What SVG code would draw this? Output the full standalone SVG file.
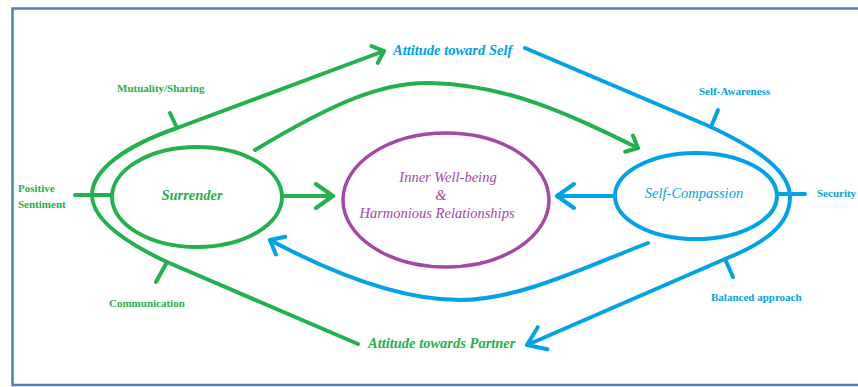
<svg xmlns="http://www.w3.org/2000/svg" width="858" height="387" viewBox="0 0 858 387">
<style>
.g{stroke:#22b14c}
.b{stroke:#00a2e8}
.ln{fill:none;stroke-width:4;stroke-linecap:round;stroke-linejoin:round}
.lbl{font-family:"Liberation Serif","Times New Roman",serif;font-weight:bold;font-size:11px}
.node{font-family:"Liberation Serif","Times New Roman",serif;font-style:italic;font-size:14.5px}
.tg{fill:#22b14c}
.tb{fill:#00a2e8}
.tp{fill:#a349a4}
</style>
<defs>
<marker id="agS" markerUnits="userSpaceOnUse" markerWidth="40" markerHeight="40" viewBox="-20 -20 40 40" refX="0" refY="0" orient="auto"><path d="M-10,-9 L0,0 L-10,9" fill="none" stroke="#22b14c" stroke-width="4" stroke-linecap="round" stroke-linejoin="round"/></marker>
<marker id="agL" markerUnits="userSpaceOnUse" markerWidth="40" markerHeight="40" viewBox="-20 -20 40 40" refX="0" refY="0" orient="auto"><path d="M-17,-12 L0,0 L-17,12" fill="none" stroke="#22b14c" stroke-width="4" stroke-linecap="round" stroke-linejoin="round"/></marker>
<marker id="abS" markerUnits="userSpaceOnUse" markerWidth="40" markerHeight="40" viewBox="-20 -20 40 40" refX="0" refY="0" orient="auto"><path d="M-12,-10 L0,0 L-12,10" fill="none" stroke="#00a2e8" stroke-width="4" stroke-linecap="round" stroke-linejoin="round"/></marker>
<marker id="abL" markerUnits="userSpaceOnUse" markerWidth="40" markerHeight="40" viewBox="-20 -20 40 40" refX="0" refY="0" orient="auto"><path d="M-17,-12 L0,0 L-17,12" fill="none" stroke="#00a2e8" stroke-width="4" stroke-linecap="round" stroke-linejoin="round"/></marker>
</defs>
<rect width="858" height="387" fill="#ffffff"/>
<path d="M860,8.5 L12.5,8.5 L12.5,385 L860,385" fill="none" stroke="#4f81bd" stroke-width="2.5"/>

<g id="connectors">
<path class="ln g" d="M358,344 L167,262 C120,240 92,218 92,195 C92,170 125,146 177,128 L384,51" marker-end="url(#agS)"/>
<path class="ln g" d="M75,195 L112,195"/>
<path class="ln g" d="M177,128 L170,113"/>
<path class="ln g" d="M167,262 L156,282"/>
<path class="ln g" d="M255,150 C330,105 380,82 430,83 C510,85 570,115 638,148" marker-end="url(#agS)"/>
<path class="ln g" d="M282,196 L333,196" marker-end="url(#agL)"/>
<path class="ln b" d="M525,48 L711,127 C760,150 790,172 790,197 C790,225 765,243 725,259 L527,345" marker-end="url(#abL)"/>
<path class="ln b" d="M711,127 L718,110"/>
<path class="ln b" d="M725,259 L733,277"/>
<path class="ln b" d="M777,194 L805,194"/>
<path class="ln b" d="M615,196 L557,196" marker-end="url(#abL)"/>
<path class="ln b" d="M648,243 C590,265 520,300 460,300 C400,300 330,272 270,240" marker-end="url(#abS)"/>
</g>

<g id="surrender">
<ellipse cx="197" cy="197" rx="85" ry="50" fill="none" stroke="#22b14c" stroke-width="4"/>
<text class="node tg" x="192" y="200" text-anchor="middle" font-weight="bold">Surrender</text>
</g>
<g id="inner">
<ellipse cx="446" cy="200" rx="103" ry="67" fill="none" stroke="#a349a4" stroke-width="3.5"/>
<text class="node tp" text-anchor="middle"><tspan x="448" y="182">Inner Well-being</tspan><tspan x="441" y="200">&amp;</tspan><tspan x="437" y="218">Harmonious Relationships</tspan></text>
</g>
<g id="selfcompassion">
<ellipse cx="696" cy="196" rx="81" ry="43" fill="none" stroke="#00a2e8" stroke-width="4"/>
<text class="node tb" x="694" y="198" text-anchor="middle">Self-Compassion</text>
</g>
<g id="attself">
<text class="node tb" x="393" y="55" font-weight="bold" font-size="13">Attitude toward Self</text>
</g>
<g id="attpartner">
<text class="node tg" x="368" y="348" font-weight="bold" font-size="13">Attitude towards Partner</text>
</g>
<g id="labels">
<text class="lbl tg" x="117" y="92">Mutuality/Sharing</text>
<text class="lbl tg"><tspan x="18" y="192">Positive</tspan><tspan x="18" y="208">Sentiment</tspan></text>
<text class="lbl tg" x="109" y="307">Communication</text>
<text class="lbl tb" x="699" y="95">Self-Awareness</text>
<text class="lbl tb" x="817" y="197">Security</text>
<text class="lbl tb" x="711" y="301">Balanced approach</text>
</g>
</svg>
